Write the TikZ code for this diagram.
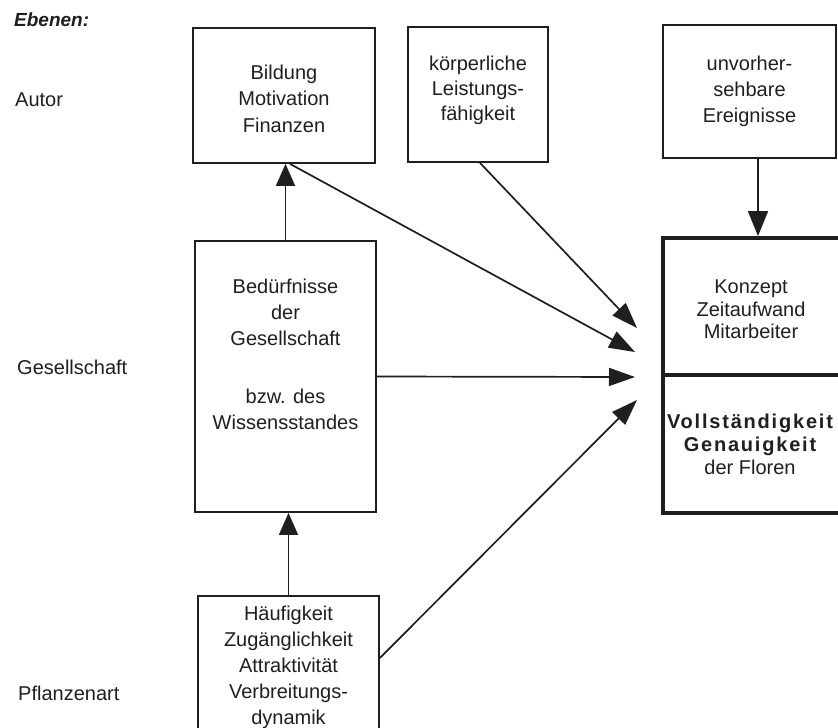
\documentclass[tikz,border=0pt]{standalone}
\usepackage{fontspec}
\setmainfont{Liberation Sans}
\usetikzlibrary{arrows.meta}
\begin{document}
\begin{tikzpicture}[x=1pt,y=-1pt,
  ink/.style={color=black!88},
  box/.style={draw=black!88, line width=1.8pt, inner sep=0pt, rectangle},
  bigbox/.style={draw=black!88, line width=3.8pt, inner sep=0pt, rectangle},
  txt/.style={ink, inner sep=0pt, align=center, font=\fontsize{20}{#1}\selectfont},
  txt/.default=26,
  lvl/.style={ink, inner sep=0pt, anchor=west, font=\fontsize{20}{24}\selectfont},
  conn/.style={draw=black!88, line width=1.7pt},
  bigarr/.style={conn, -{Triangle[length=26pt,width=18pt]}},
  uparr/.style={conn, -{Triangle[length=22pt,width=19pt]}},
  downarr/.style={conn, -{Triangle[length=25pt,width=20pt]}}
]
\useasboundingbox (0,0) rectangle (838,728);
\fill[white] (0,0) rectangle (838,728);
\begin{scope}
\clip (0,0) rectangle (838,728);

% level labels
\node[ink, inner sep=0pt, anchor=west, font=\fontsize{19}{22}\selectfont\bfseries\itshape] (ebenen) at (14,20) {Ebenen:};
\node[lvl] (lautor) at (15,100) {Autor};
\node[lvl] (lges) at (17,367) {Gesellschaft};
\node[lvl] (lpfl) at (18,693) {Pflanzenart};

% boxes
\node[box, minimum width=182pt, minimum height=135pt] (bild) at (284,95.5) {};
\node[txt=26.5] (bildt) at (284,98.5) {Bildung\\Motivation\\Finanzen};

\node[box, minimum width=140pt, minimum height=135pt] (koerp) at (478,94.5) {};
\node[txt=25] (koerpt) at (478,90) {körperliche\\Leistungs-\\fähigkeit};

\node[box, minimum width=173pt, minimum height=133pt] (unv) at (749.5,91.5) {};
\node[txt=26] (unvt) at (749.5,91) {unvorher-\\sehbare\\Ereignisse};

\node[box, minimum width=181pt, minimum height=271pt] (bed) at (285.5,376.5) {};
\node[txt=26] (bedt) at (285.5,354.5) {Bedürfnisse\\der\\Gesellschaft\\[32pt]bzw. des\\Wissensstandes};

\node[box, minimum width=181pt, minimum height=149pt] (pfl) at (288.5,670.5) {};
\node[txt=26] (pflt) at (288.5,667) {Häufigkeit\\Zugänglichkeit\\Attraktivität\\Verbreitungs-\\dynamik};

% result box (its right side runs past the edge of the picture)
\node[bigbox, minimum width=187pt, minimum height=137pt] (kon) at (756.5,306.5) {};
\node[txt=22.5] (kont) at (751,309.5) {Konzept\\Zeitaufwand\\Mitarbeiter};
\node[bigbox, minimum width=187pt, minimum height=138pt] (voll) at (756.5,444) {};
\node[txt=23] (vollt) at (750,444) {{\bfseries\addfontfeatures{LetterSpace=9}Vollständigkeit}\\{\bfseries\addfontfeatures{LetterSpace=9}Genauigkeit}\\der Floren};

% arrow tip points in front of the result box
\coordinate (t1) at (637,328);
\coordinate (t2) at (635,352);
\coordinate (t3) at (635,377);
\coordinate (t4) at (637,400);

% connectors
\draw[uparr] (bed.north) -- (bed.north |- bild.south);
\draw[uparr] (pfl.north) -- (pfl.north |- bed.south);
\draw[downarr] ([xshift=8.5pt]unv.south) -- ([xshift=8.5pt]unv.south |- kon.north);
\draw[bigarr] ([xshift=2pt]koerp.south) -- (t1);
\draw[bigarr] ([xshift=6pt]bild.south) -- (t2);
\draw[bigarr] (bed.east) -- (t3);
\draw[bigarr] ([yshift=12.5pt]pfl.east) -- (t4);
\end{scope}
\end{tikzpicture}
\end{document}
